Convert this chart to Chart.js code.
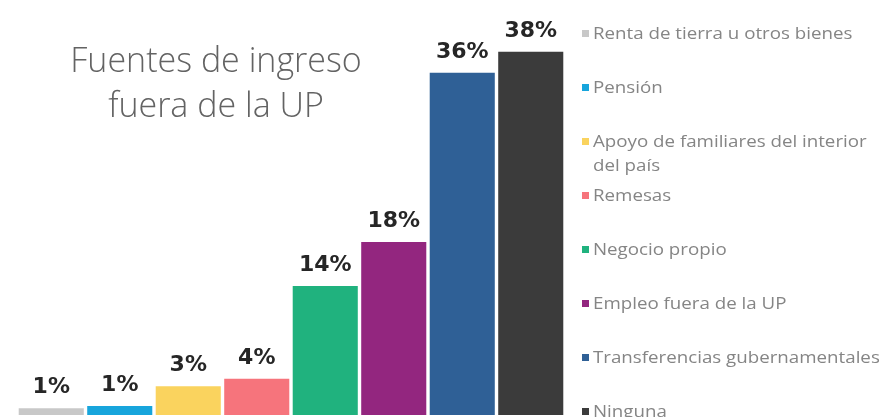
<!DOCTYPE html>
<html lang="es">
<head>
    <meta charset="UTF-8">
    <title>Fuentes de ingreso fuera de la UP</title>
    <script src="https://cdn.jsdelivr.net/npm/chart.js"></script>
    <style>
        body {
            margin: 0;
            padding: 0;
            background: #fff;
        }

        .wrap {
            width: 884px;
            height: 417px;
        }
    </style>
</head>
<body>
    <div class="wrap">
        <canvas id="chart"></canvas>
    </div>
    <script>
        const categories = [
            'Renta de tierra u otros bienes',
            'Pensión',
            'Apoyo de familiares del interior del país',
            'Remesas',
            'Negocio propio',
            'Empleo fuera de la UP',
            'Transferencias gubernamentales',
            'Ninguna'
        ];
        // legend text, wrapped the way the original wraps it
        const legendLines = [
            ['Renta de tierra u otros bienes'],
            ['Pensión'],
            ['Apoyo de familiares del interior', 'del país'],
            ['Remesas'],
            ['Negocio propio'],
            ['Empleo fuera de la UP'],
            ['Transferencias gubernamentales'],
            ['Ninguna']
        ];
        const values = [0.7, 0.95, 3.0, 3.8, 13.5, 18.1, 35.8, 38.0];
        const valueLabels = ['1%', '1%', '3%', '4%', '14%', '18%', '36%', '38%'];
        const titleLines = ['Fuentes de ingreso', 'fuera de la UP'];

        const colors = ['#c8c8c8', '#17a5dc', '#fad35e', '#f6747c', '#20b27e', '#93267f', '#2f6096', '#3b3b3b'];

        const overlay = {
            id: 'overlay',
            afterDatasetsDraw(chart) {
                const ctx = chart.ctx;
                const meta = chart.getDatasetMeta(0);
                ctx.save();

                // value labels above the bars
                ctx.font = 'bold 22px "DejaVu Sans", sans-serif';
                ctx.fillStyle = '#262626';
                ctx.textAlign = 'center';
                ctx.textBaseline = 'alphabetic';
                meta.data.forEach((bar, i) => {
                    ctx.fillText(valueLabels[i], bar.x, bar.y - 15);
                });

                // title inside the plot
                ctx.font = '300 34px "Open Sans", sans-serif';
                ctx.fillStyle = '#636363';
                ctx.textBaseline = 'middle';
                titleLines.forEach((line, i) => {
                    ctx.fillText(line, 216, 62 + i * 45);
                });

                // legend on the right (original text is a bit stretched sideways)
                ctx.font = '16px "Open Sans", sans-serif';
                ctx.textAlign = 'left';
                legendLines.forEach((lines, i) => {
                    const y = 34 + i * 54;
                    ctx.fillStyle = colors[i];
                    ctx.fillRect(582, y - 4, 7, 7);
                    ctx.fillStyle = '#858585';
                    lines.forEach((t, j) => {
                        ctx.save();
                        ctx.translate(593, y + j * 24);
                        ctx.scale(1.17, 1);
                        ctx.fillText(t, 0, 0);
                        ctx.restore();
                    });
                });
                ctx.restore();
            }
        };

        new Chart(document.getElementById('chart'), {
            type: 'bar',
            data: {
                labels: categories,
                datasets: [{
                    data: values,
                    backgroundColor: colors,
                    borderWidth: 0,
                    categoryPercentage: 1,
                    barPercentage: 0.95
                }]
            },
            options: {
                responsive: true,
                maintainAspectRatio: false,
                animation: false,
                layout: {
                    padding: { left: 17, right: 319, top: 1, bottom: 2 }
                },
                plugins: {
                    legend: { display: false },
                    title: { display: false },
                    tooltip: { enabled: false }
                },
                scales: {
                    x: { display: false },
                    y: { display: false, min: 0, max: 43.3 }
                }
            },
            plugins: [overlay]
        });
    </script>
</body>
</html>
